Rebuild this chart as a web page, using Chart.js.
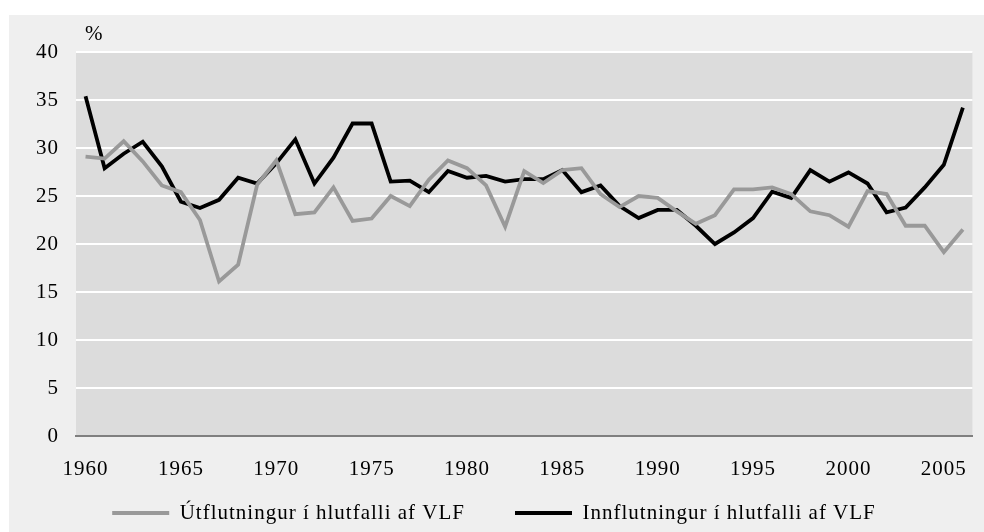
<!DOCTYPE html>
<html>
<head>
<meta charset="utf-8">
<script src="https://cdn.jsdelivr.net/npm/chart.js@4"></script>
<style>
html,body{margin:0;padding:0;background:#ffffff;}
#wrap{position:absolute;left:0;top:0;width:984px;height:532px;}
</style>
</head>
<body>
<div id="wrap"><canvas id="c" width="984" height="532"></canvas></div>
<script>
const years = [];
for (let y = 1960; y <= 2006; y++) years.push(String(y));

const exportShare = [29.1, 28.9, 30.7, 28.6, 26.1, 25.4, 22.5, 16.1, 17.85, 26.2,
  28.7, 23.1, 23.3, 25.9, 22.4, 22.65, 25.0, 23.95, 26.7, 28.7,
  27.9, 26.1, 21.8, 27.6, 26.35, 27.7, 27.9, 25.2, 23.85, 25.0,
  24.8, 23.4, 22.1, 23.0, 25.7, 25.7, 25.9, 25.2, 23.4, 23.0,
  21.8, 25.5, 25.2, 21.9, 21.9, 19.15, 21.5];

const importShare = [35.4, 27.9, 29.4, 30.65, 28.1, 24.4, 23.75, 24.6, 26.9, 26.3,
  28.4, 30.9, 26.3, 29.0, 32.55, 32.55, 26.5, 26.6, 25.4, 27.6,
  26.9, 27.1, 26.5, 26.75, 26.75, 27.7, 25.4, 26.1, 23.95, 22.7,
  23.55, 23.55, 21.9, 20.0, 21.2, 22.7, 25.45, 24.8, 27.7, 26.5,
  27.45, 26.3, 23.3, 23.8, 25.9, 28.25, 34.2];

const seriesNames = ["Útflutningur í hlutfalli af VLF", "Innflutningur í hlutfalli af VLF"];
const yTicks = [0, 5, 10, 15, 20, 25, 30, 35, 40];
const unitLabel = "%";

const FONT = "'Liberation Serif', 'Times New Roman', serif";
const FSIZE = 21;
const LEGEND_PAD = 50;
const LEGEND_H = 50;
const XAXIS_H = 46;

const bgPlugin = {
  id: 'bg',
  beforeUpdate(chart) {
    try { chart.ctx.letterSpacing = '1px'; } catch (e) {}
    const lg = chart.legend;
    if (lg && !lg._patchedFit) {
      const orig = lg.fit.bind(lg);
      lg.fit = function () { orig(); this.height = LEGEND_H; };
      lg._patchedFit = true;
    }
  },
  afterLayout(chart) {
    const lg = chart.legend;
    if (lg) {
      // place legend row so its text centre sits near y = 513
      lg.top = 513 - LEGEND_PAD - FSIZE / 2;
      lg.bottom = chart.height;
      lg.height = lg.bottom - lg.top;
      lg.left += 7;
      lg.right += 7;
    }
  },
  beforeDraw(chart) {
    const ctx = chart.ctx, a = chart.chartArea;
    try { ctx.letterSpacing = '1px'; } catch (e) {}
    ctx.save();
    ctx.fillStyle = '#efefef';
    ctx.fillRect(9, 15, chart.width - 9, chart.height - 15);
    ctx.fillStyle = '#dcdcdc';
    ctx.fillRect(a.left, a.top, a.right - a.left, a.bottom - a.top);
    ctx.restore();
  },
  afterDraw(chart) {
    const ctx = chart.ctx, a = chart.chartArea;
    ctx.save();
    ctx.fillStyle = '#000';
    ctx.font = FSIZE + "px " + FONT;
    ctx.textBaseline = 'middle';
    ctx.textAlign = 'left';
    ctx.fillText(unitLabel, a.left + 9, 34);
    ctx.restore();
  }
};

new Chart(document.getElementById('c'), {
  type: 'line',
  data: {
    labels: years,
    datasets: [
      { label: seriesNames[0], data: exportShare, borderColor: '#999999', backgroundColor: '#999999',
        borderWidth: 3.8, pointRadius: 0, tension: 0, borderJoinStyle: 'miter' },
      { label: seriesNames[1], data: importShare, borderColor: '#000000', backgroundColor: '#000000',
        borderWidth: 3.8, pointRadius: 0, tension: 0, borderJoinStyle: 'miter' }
    ]
  },
  options: {
    responsive: false,
    animation: false,
    devicePixelRatio: 1,
    layout: { padding: { top: 52, right: 10, left: 0, bottom: 0 } },
    plugins: {
      tooltip: { enabled: false },
      legend: {
        position: 'bottom',
        labels: {
          font: { family: FONT, size: FSIZE },
          color: '#000',
          boxWidth: 57,
          boxHeight: 4,
          padding: LEGEND_PAD,
          generateLabels(chart) {
            return chart.data.datasets.map((d, i) => ({
              text: d.label, fillStyle: d.borderColor, strokeStyle: d.borderColor,
              lineWidth: 0, hidden: false, datasetIndex: i, fontColor: '#000'
            }));
          }
        }
      }
    },
    scales: {
      x: {
        type: 'category',
        offset: true,
        grid: { display: false, drawTicks: false },
        border: { display: true, color: '#7f7f7f', width: 2 },
        ticks: {
          autoSkip: false, maxRotation: 0, minRotation: 0, padding: 21,
          color: '#000', font: { family: FONT, size: FSIZE },
          callback(v, i) { const y = Number(years[i]); return y % 5 === 0 ? years[i] : ''; }
        },
        afterFit(s) { s.height = XAXIS_H; }
      },
      y: {
        min: 0, max: 40,
        afterBuildTicks(s) { s.ticks = yTicks.map(v => ({ value: v })); },
        grid: {
          drawTicks: false, lineWidth: 2,
          color: ctx => (ctx.tick && ctx.tick.value === 0) ? 'rgba(0,0,0,0)' : '#ffffff'
        },
        border: { display: false },
        ticks: { padding: 17, color: '#000', font: { family: FONT, size: FSIZE } },
        afterFit(s) { s.width = 76; }
      }
    }
  },
  plugins: [bgPlugin]
});
</script>
</body>
</html>
